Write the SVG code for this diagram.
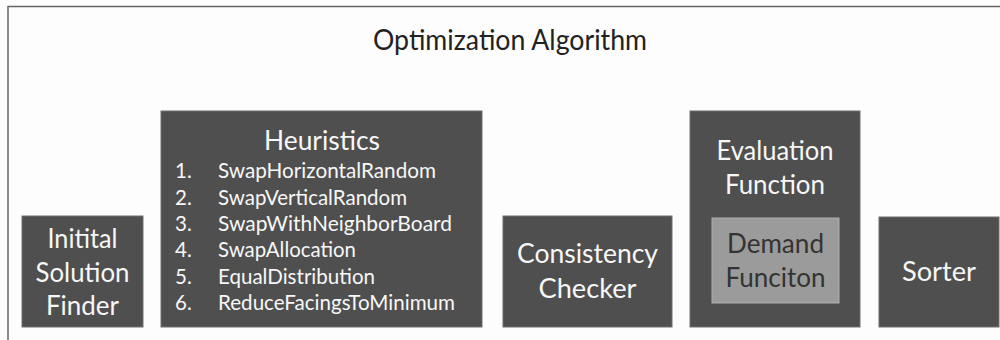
<svg xmlns="http://www.w3.org/2000/svg" width="1000" height="340" viewBox="0 0 1000 340">
  <style>
    .frame { fill: none; stroke: #666666; stroke-width: 1.5; }
    .box { fill: #4f4f4f; stroke: #6e6e6e; stroke-width: 1; }
    .inner { fill: #9b9b9b; stroke: #b0b0b0; stroke-width: 1; }
    .t { font-family: Lato, "Open Sans", "Liberation Sans", sans-serif; fill: #f7f7f7; }
    .title { font-family: Lato, "Open Sans", "Liberation Sans", sans-serif; fill: #222222; font-size: 28px; }
    .big { font-size: 26px; }
    .item { font-size: 20.5px; }
    .dark { fill: #333333; }
  </style>

  <rect width="1000" height="340" fill="#fdfdfd"/>

  <!-- Outer algorithm frame (open on the right and bottom) -->
  <g id="frame">
    <path class="frame" d="M8 340 V6.5 H1000"/>
    <text class="title" x="510" y="50" text-anchor="middle" textLength="274" lengthAdjust="spacingAndGlyphs">Optimization Algorithm</text>
  </g>

  <g id="initial-solution-finder">
    <rect class="box" x="22" y="216" width="121" height="111"/>
    <text class="t big" x="82.5" y="248" text-anchor="middle" textLength="70" lengthAdjust="spacingAndGlyphs">Initital</text>
    <text class="t big" x="82.5" y="282" text-anchor="middle" textLength="94" lengthAdjust="spacingAndGlyphs">Solution</text>
    <text class="t big" x="82.5" y="315" text-anchor="middle" textLength="73" lengthAdjust="spacingAndGlyphs">Finder</text>
  </g>

  <g id="heuristics">
    <rect class="box" x="161" y="111" width="321" height="216"/>
    <text class="t big" x="322" y="150" text-anchor="middle" textLength="116" lengthAdjust="spacingAndGlyphs">Heuristics</text>
    <g class="t item">
      <text x="175" y="178">1.</text>
      <text x="218" y="178" textLength="218" lengthAdjust="spacingAndGlyphs">SwapHorizontalRandom</text>
      <text x="175" y="205">2.</text>
      <text x="218" y="205" textLength="189" lengthAdjust="spacingAndGlyphs">SwapVerticalRandom</text>
      <text x="175" y="231">3.</text>
      <text x="218" y="231" textLength="234" lengthAdjust="spacingAndGlyphs">SwapWithNeighborBoard</text>
      <text x="175" y="257">4.</text>
      <text x="218" y="257" textLength="138" lengthAdjust="spacingAndGlyphs">SwapAllocation</text>
      <text x="175" y="284">5.</text>
      <text x="218" y="284" textLength="157" lengthAdjust="spacingAndGlyphs">EqualDistribution</text>
      <text x="175" y="310">6.</text>
      <text x="218" y="310" textLength="237" lengthAdjust="spacingAndGlyphs">ReduceFacingsToMinimum</text>
    </g>
  </g>

  <g id="consistency-checker">
    <rect class="box" x="503" y="216" width="169" height="111"/>
    <text class="t big" x="587.5" y="263" text-anchor="middle" textLength="141" lengthAdjust="spacingAndGlyphs">Consistency</text>
    <text class="t big" x="587.5" y="298" text-anchor="middle" textLength="98" lengthAdjust="spacingAndGlyphs">Checker</text>
  </g>

  <g id="evaluation-function">
    <rect class="box" x="690" y="111" width="170" height="216"/>
    <text class="t big" x="775" y="160" text-anchor="middle" textLength="117" lengthAdjust="spacingAndGlyphs">Evaluation</text>
    <text class="t big" x="775" y="194" text-anchor="middle" textLength="100" lengthAdjust="spacingAndGlyphs">Function</text>
    <g id="demand-function">
      <rect class="inner" x="712" y="218" width="127" height="85"/>
      <text class="t big dark" x="775.5" y="253" text-anchor="middle" textLength="97" lengthAdjust="spacingAndGlyphs">Demand</text>
      <text class="t big dark" x="775.5" y="287" text-anchor="middle" textLength="100" lengthAdjust="spacingAndGlyphs">Funciton</text>
    </g>
  </g>

  <g id="sorter">
    <rect class="box" x="879" y="217" width="120" height="110"/>
    <text class="t big" x="939" y="281" text-anchor="middle" textLength="74" lengthAdjust="spacingAndGlyphs">Sorter</text>
  </g>

  <!-- No connectors are drawn between the components -->
  <g id="connectors"/>
</svg>
